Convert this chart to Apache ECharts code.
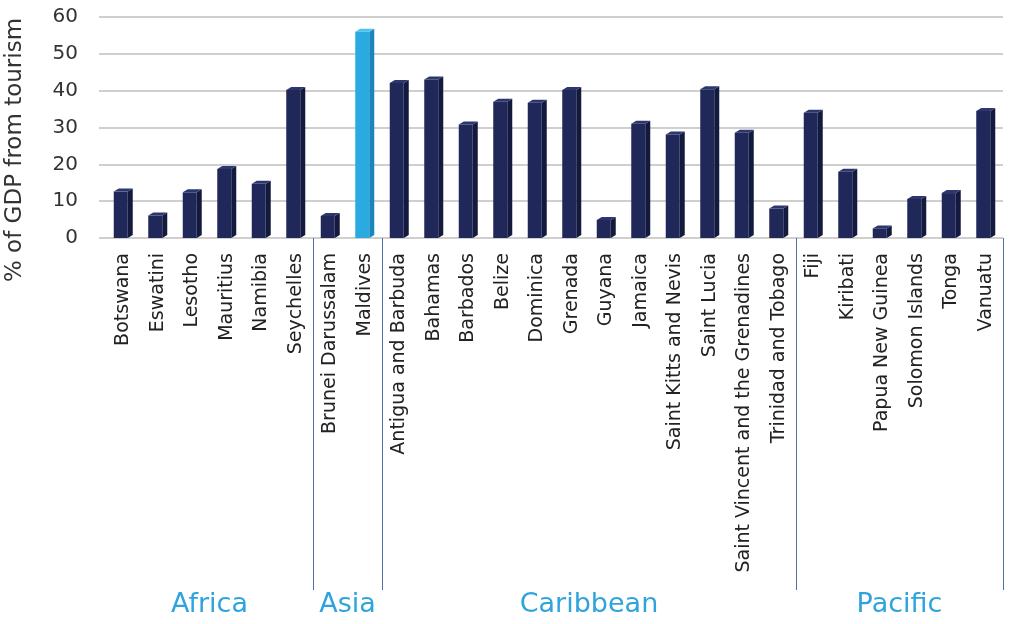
<!DOCTYPE html>
<html>
<head>
<meta charset="utf-8">
<script src="https://cdn.jsdelivr.net/npm/echarts@6/dist/echarts.min.js"></script>
<style>
html,body{margin:0;padding:0;background:#fff;}
#main{width:1024px;height:624px;}
</style>
</head>
<body>
<div id="main"></div>
<script>
const categories = ['Botswana','Eswatini','Lesotho','Mauritius','Namibia','Seychelles',
  'Brunei Darussalam','Maldives',
  'Antigua and Barbuda','Bahamas','Barbados','Belize','Dominica','Grenada','Guyana','Jamaica',
  'Saint Kitts and Nevis','Saint Lucia','Saint Vincent and the Grenadines','Trinidad and Tobago',
  'Fiji','Kiribati','Papua New Guinea','Solomon Islands','Tonga','Vanuatu'];
const values = [12.6, 6.1, 12.4, 18.7, 14.7, 40.2,
  6.0, 56.0,
  42.1, 43.0, 30.8, 37.0, 36.7, 40.2, 4.9, 31.0, 28.1, 40.4, 28.6, 8.0,
  34.0, 18.0, 2.6, 10.6, 12.2, 34.5];
const highlighted = ['Maldives'];
const groupNames = ['Africa','Asia','Caribbean','Pacific'];
const groupSizes = [6, 2, 12, 6];
const yTitle = '% of GDP from tourism';

const FONT = 'DejaVu Sans';
// group boundaries and centers derived from group sizes
const bounds = []; const centers = []; let acc = 0;
groupSizes.forEach(s => { centers.push(acc + s / 2); acc += s; bounds.push(acc); });

const chart = echarts.init(document.getElementById('main'));
chart.setOption({
  animation: false,
  backgroundColor: '#ffffff',
  grid: { left: 106, right: 21, top: 17, bottom: 386, containLabel: false, outerBoundsMode: 'none' },
  graphic: [{
    type: 'text', x: 15, y: 150, rotation: Math.PI / 2,
    style: { text: yTitle, align: 'center', verticalAlign: 'middle',
      font: '23px "DejaVu Sans"', fill: '#333' }
  }],
  xAxis: [{
    type: 'category',
    data: categories,
    axisLine: { show: false },
    axisTick: { show: false },
    axisLabel: { rotate: 90, interval: 0, margin: 15, fontSize: 19, color: '#222', fontFamily: FONT }
  }, {
    type: 'value',
    min: 0, max: categories.length,
    position: 'bottom',
    offset: 352,
    axisLine: { show: false },
    splitLine: { show: false },
    axisTick: { show: true, inside: true, length: 352, customValues: bounds,
      lineStyle: { color: '#4f6fa8', width: 1 } },
    axisLabel: { show: true, customValues: centers, margin: 1, fontSize: 27, color: '#2fa4dc', fontFamily: FONT,
      formatter: v => { const i = centers.indexOf(v); return i >= 0 ? groupNames[i] : ''; } }
  }],
  yAxis: {
    type: 'value',
    min: 0, max: 60, interval: 10,
    axisLine: { show: false },
    axisTick: { show: true, length: 7, lineStyle: { color: '#cfcfcf', width: 2 } },
    axisLabel: { fontSize: 20, color: '#333', margin: 28, fontFamily: FONT },
    splitLine: { lineStyle: { color: '#cfcfcf', width: 2 } }
  },
  series: [{
    type: 'custom',
    xAxisIndex: 0,
    data: values.map((v, i) => [i, v]),
    encode: { x: 0, y: 1 },
    renderItem: function (params, api) {
      const idx = api.value(0), v = api.value(1);
      const top = api.coord([idx, v]);
      const base = api.coord([idx, 0]);
      const fw = 14, d = 5, h = 3;
      const x0 = top[0] - (fw + d) / 2;
      const hl = highlighted.indexOf(categories[idx]) >= 0;
      const cFront = hl ? '#29abe2' : '#1f2858';
      const cSide = hl ? '#1b86bb' : '#131a3e';
      const cTop = hl ? '#4cc3f0' : '#2c3770';
      return {
        type: 'group',
        children: [
          { type: 'polygon', shape: { points: [[x0 + fw, top[1]], [x0 + fw + d, top[1] - h], [x0 + fw + d, base[1] - h], [x0 + fw, base[1]]] },
            style: { fill: cSide } },
          { type: 'polygon', shape: { points: [[x0, top[1]], [x0 + d, top[1] - h], [x0 + fw + d, top[1] - h], [x0 + fw, top[1]]] },
            style: { fill: cTop } },
          { type: 'rect', shape: { x: x0, y: top[1], width: fw, height: base[1] - top[1] },
            style: { fill: cFront } }
        ]
      };
    }
  }]
});
</script>
</body>
</html>
